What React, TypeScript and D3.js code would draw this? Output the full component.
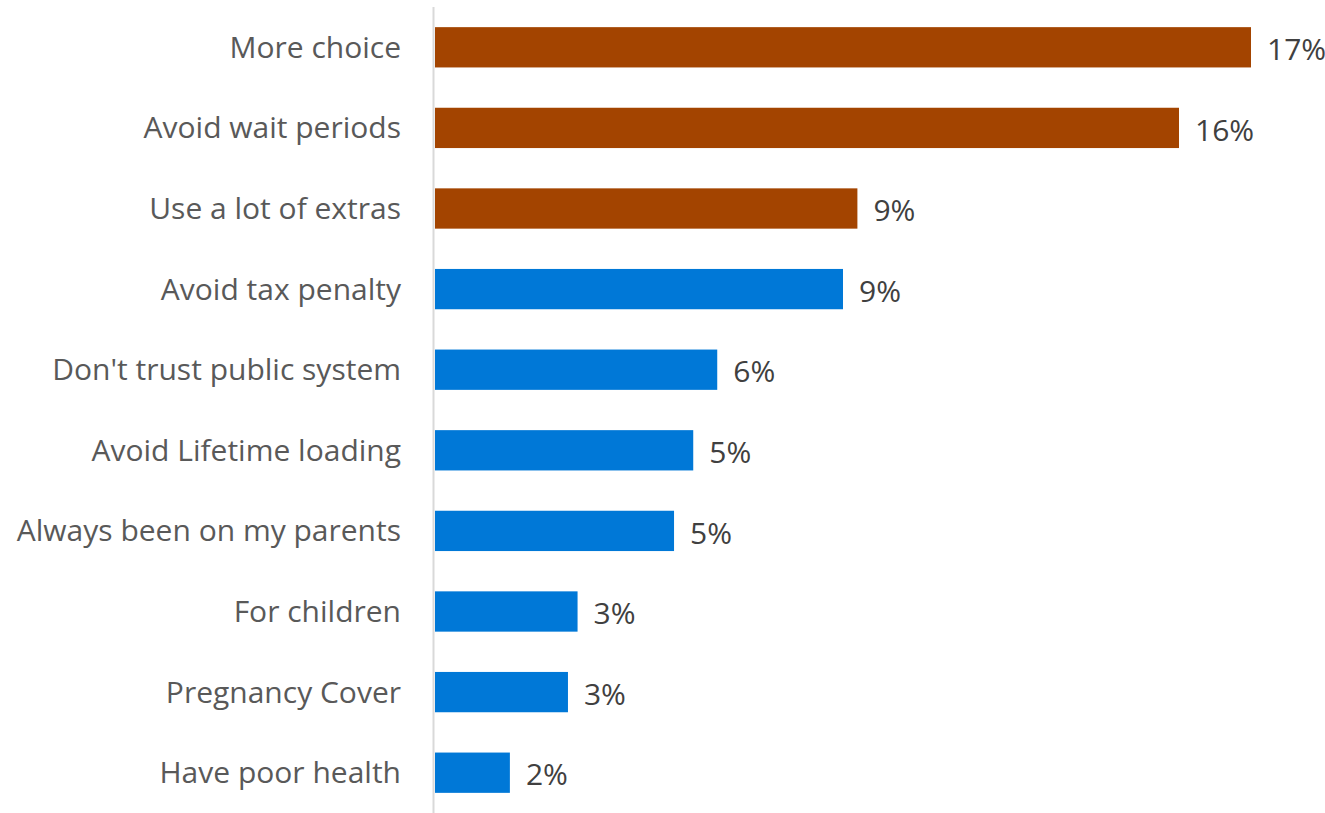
import React from "react";
import * as d3 from "d3";

const categories = [
  "More choice",
  "Avoid wait periods",
  "Use a lot of extras",
  "Avoid tax penalty",
  "Don't trust public system",
  "Avoid Lifetime loading",
  "Always been on my parents",
  "For children",
  "Pregnancy Cover",
  "Have poor health",
];
const values = [0.17, 0.155, 0.088, 0.085, 0.0588, 0.0538, 0.0498, 0.0297, 0.0277, 0.0156];
const valueLabels = ["17%", "16%", "9%", "9%", "6%", "5%", "5%", "3%", "3%", "2%"];
const highlight = [true, true, true, false, false, false, false, false, false, false];

const W = 1325;
const H = 813;
const FONT = "'Open Sans', 'Noto Sans', sans-serif";

export default function App() {
  const x0 = 435;
  const x = d3.scaleLinear().domain([0, 0.17]).range([x0, 1251]);
  const y = d3
    .scaleBand<string>()
    .domain(categories)
    .range([7, 813])
    .paddingInner(0.5)
    .paddingOuter(0.25);

  return (
    <svg
      width={W}
      height={H}
      style={{ position: "absolute", left: 0, top: 0, background: "#fff" }}
      fontFamily={FONT}
    >
      {categories.map((c, i) => {
        const yy = y(c)!;
        const cy = yy + y.bandwidth() / 2;
        return (
          <g key={c}>
            <rect
              x={x(0)}
              y={yy}
              width={x(values[i]) - x(0)}
              height={y.bandwidth()}
              fill={highlight[i] ? "#A34400" : "#0078D7"}
            />
            <text
              x={x0 - 34}
              y={cy}
              dy="0.35em"
              textAnchor="end"
              fontSize={30}
              fill="#595959"
            >
              {c}
            </text>
            <text
              x={x(values[i]) + 16}
              y={cy}
              dy="0.42em"
              textAnchor="start"
              fontSize={30}
              fill="#404040"
            >
              {valueLabels[i]}
            </text>
          </g>
        );
      })}
      <line x1={433.5} x2={433.5} y1={7} y2={813} stroke="#D9D9D9" strokeWidth={2} />
    </svg>
  );
}
